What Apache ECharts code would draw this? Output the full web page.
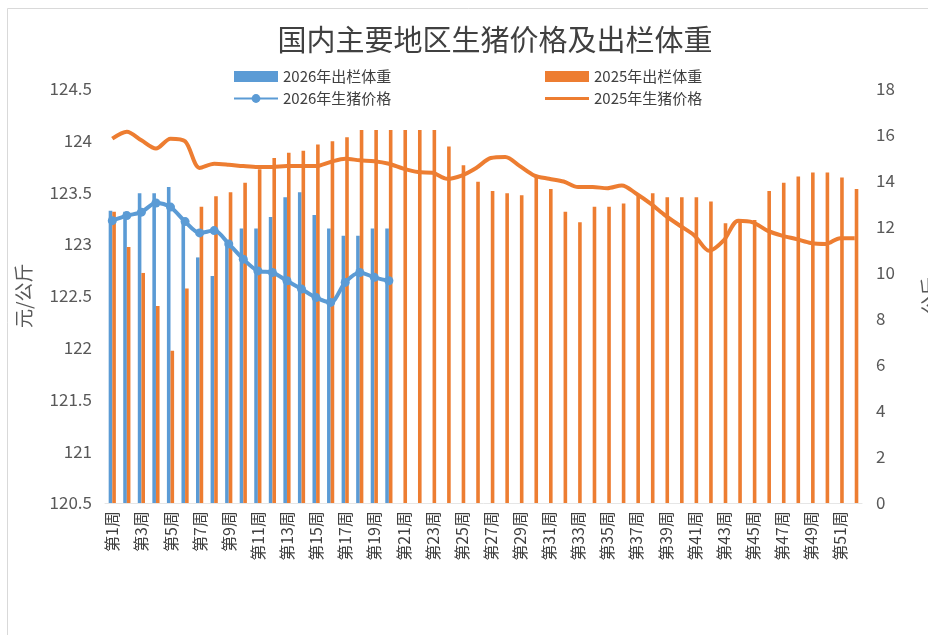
<!DOCTYPE html>
<html>
<head>
<meta charset="utf-8">
<script src="https://cdn.jsdelivr.net/npm/echarts@6/dist/echarts.min.js"></script>
<style>
html,body{margin:0;padding:0;background:#fff;}
#c{width:928px;height:635px;}
</style>
</head>
<body>
<div id="c"></div>
<script>
var weeks = ['第1周','第2周','第3周','第4周','第5周','第6周','第7周','第8周','第9周','第10周',
'第11周','第12周','第13周','第14周','第15周','第16周','第17周','第18周','第19周','第20周',
'第21周','第22周','第23周','第24周','第25周','第26周','第27周','第28周','第29周','第30周',
'第31周','第32周','第33周','第34周','第35周','第36周','第37周','第38周','第39周','第40周',
'第41周','第42周','第43周','第44周','第45周','第46周','第47周','第48周','第49周','第50周',
'第51周','第52周'];

var weight2026 = [123.32,123.31,123.49,123.49,123.55,123.25,122.87,122.69,123.0,123.15,
123.15,123.26,123.45,123.50,123.28,123.15,123.08,123.08,123.15,123.15];

var weight2025 = [123.31,122.97,122.72,122.40,121.97,122.57,123.36,123.46,123.50,123.59,
123.72,123.83,123.88,123.90,123.96,123.99,124.03,124.10,124.10,124.10,
124.10,124.10,124.10,123.94,123.76,123.60,123.51,123.49,123.47,123.65,
123.53,123.31,123.21,123.36,123.36,123.39,123.47,123.49,123.45,123.45,
123.45,123.41,123.20,123.23,123.23,123.51,123.59,123.65,123.69,123.69,
123.64,123.53];

var price2026 = [12.26,12.48,12.63,13.03,12.85,12.22,11.73,11.83,11.25,10.59,
10.08,10.01,9.65,9.29,8.92,8.71,9.58,10.01,9.80,9.65];

var price2025 = [15.82,16.12,15.75,15.39,15.82,15.71,14.55,14.73,14.69,14.63,
14.59,14.59,14.63,14.63,14.63,14.81,14.95,14.88,14.84,14.73,
14.52,14.37,14.34,14.08,14.22,14.55,14.98,15.03,14.63,14.22,
14.08,13.96,13.72,13.72,13.67,13.79,13.43,12.99,12.48,12.04,
11.61,10.95,11.40,12.26,12.19,11.83,11.61,11.46,11.29,11.25,
11.50,11.50];

var names = ['2026年出栏体重','2025年出栏体重','2026年生猪价格','2025年生猪价格'];
var leftTicks = {min:120.5, max:124.5, interval:0.5};
var rightTicks = {min:0, max:18, interval:2};

var FONT = '"Noto Sans CJK SC", "Noto Sans", sans-serif';
var BLUE = '#5B9BD5', ORANGE = '#ED7D31';
var LINE_ICON = 'path://M0,0L0,0Z M0,4L44,4L44,7L0,7Z M0,11L0,11Z';

var chart = echarts.init(document.getElementById('c'), null, {renderer:'canvas'});
chart.setOption({
  animation:false,
  backgroundColor:'#fff',
  textStyle:{fontFamily:FONT},
  graphic:[{type:'rect', shape:{x:7.5,y:8.5,width:940,height:640}, style:{fill:'none', stroke:'#d9d9d9', lineWidth:1}, silent:true}],
  title:{
    text:'国内主要地区生猪价格及出栏体重',
    left:490, textAlign:'center', top:20,
    textStyle:{fontFamily:FONT, fontSize:29, fontWeight:'normal', color:'#404040'}
  },
  legend:[{
    data:[{name:names[0], icon:'rect'}, {name:names[2]}],
    orient:'vertical', left:228, top:64, itemGap:7,
    itemWidth:44, itemHeight:11,
    textStyle:{fontFamily:FONT, fontSize:15, color:'#404040'}
  },{
    data:[{name:names[1], icon:'rect'}, {name:names[3], icon:LINE_ICON}],
    orient:'vertical', left:540, top:64, itemGap:7,
    itemWidth:44, itemHeight:11,
    textStyle:{fontFamily:FONT, fontSize:15, color:'#404040'}
  }],
  grid:{left:105, right:66, top:88.5, bottom:132, containLabel:false, outerBoundsMode:'none'},
  xAxis:{
    type:'category', data:weeks,
    axisLine:{show:true, lineStyle:{color:'#e6e6e6'}},
    axisTick:{show:false},
    axisLabel:{interval:1, rotate:90, margin:8, fontFamily:FONT, fontSize:16, color:'#404040'}
  },
  yAxis:[{
    type:'value', min:leftTicks.min, max:leftTicks.max, interval:leftTicks.interval,
    name:'元/公斤', nameLocation:'middle', nameGap:72, nameRotate:90,
    nameTextStyle:{fontFamily:FONT, fontSize:19, color:'#595959'},
    splitLine:{show:false}, axisLine:{show:false}, axisTick:{show:false},
    axisLabel:{margin:13, fontFamily:FONT, fontSize:17, color:'#595959'}
  },{
    type:'value', min:rightTicks.min, max:rightTicks.max, interval:rightTicks.interval,
    name:'公斤', nameLocation:'middle', nameGap:58, nameRotate:90,
    nameTextStyle:{fontFamily:FONT, fontSize:19, color:'#595959'},
    splitLine:{show:false}, axisLine:{show:false}, axisTick:{show:false},
    axisLabel:{margin:14, fontFamily:FONT, fontSize:17, color:'#595959'}
  }],
  series:[{
    name:names[0], type:'bar', yAxisIndex:0, data:weight2026,
    barWidth:3.6, barGap:'0%', itemStyle:{color:BLUE}
  },{
    name:names[1], type:'bar', yAxisIndex:0, data:weight2025,
    barWidth:3.6, barGap:'0%', itemStyle:{color:ORANGE}
  },{
    name:names[2], type:'line', yAxisIndex:1, data:price2026,
    smooth:0.3, symbol:'circle', symbolSize:9,
    lineStyle:{color:BLUE, width:4}, itemStyle:{color:BLUE}, z:5
  },{
    name:names[3], type:'line', yAxisIndex:1, data:price2025,
    smooth:0.3, symbol:'none',
    lineStyle:{color:ORANGE, width:4}, itemStyle:{color:ORANGE}, z:4
  }]
});
</script>
</body>
</html>
